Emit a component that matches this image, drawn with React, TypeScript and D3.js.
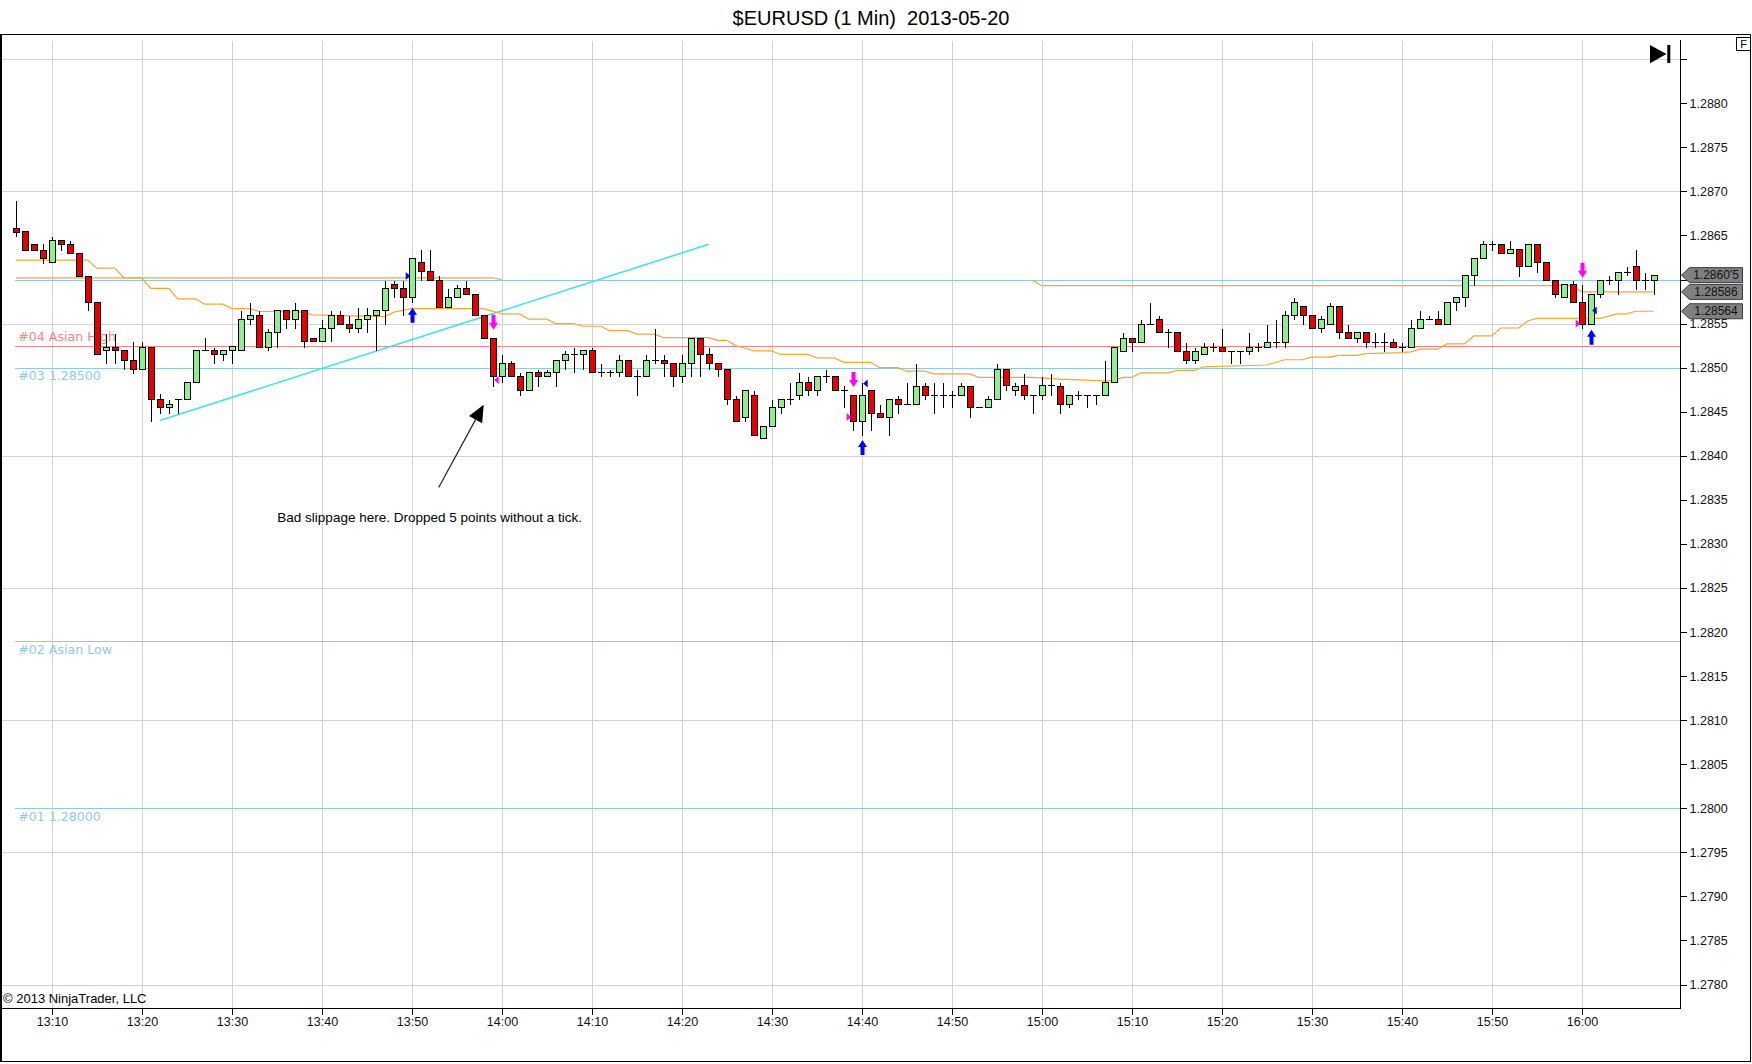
import * as d3 from 'd3';

// 1-minute bars, first bar at 13:06
const firstBar = '13:06';

const opens = [
  1.28659, 1.28655, 1.28640, 1.28634, 1.28620, 1.28645, 1.28640, 1.28630, 1.28604, 1.28574,
  1.28520, 1.28524, 1.28520, 1.28509, 1.28499, 1.28524, 1.28465, 1.28455, 1.28465, 1.28465,
  1.28484, 1.28520, 1.28520, 1.28515, 1.28520, 1.28520, 1.28555, 1.28560, 1.28524, 1.28540,
  1.28565, 1.28555, 1.28565, 1.28534, 1.28530, 1.28545, 1.28560, 1.28550, 1.28545, 1.28555,
  1.28560, 1.28565, 1.28595, 1.28590, 1.28580, 1.28620, 1.28610, 1.28600, 1.28569, 1.28580,
  1.28590, 1.28584, 1.28560, 1.28534, 1.28490, 1.28505, 1.28490, 1.28475, 1.28495, 1.28490,
  1.28495, 1.28509, 1.28515, 1.28515, 1.28520, 1.28495, 1.28495, 1.28495, 1.28509, 1.28490,
  1.28490, 1.28509, 1.28509, 1.28505, 1.28490, 1.28505, 1.28534, 1.28515, 1.28505, 1.28499,
  1.28465, 1.28444, 1.28469, 1.28420, 1.28434, 1.28455, 1.28465, 1.28469, 1.28484, 1.28475,
  1.28490, 1.28490, 1.28475, 1.28469, 1.28440, 1.28475, 1.28449, 1.28444, 1.28465, 1.28459,
  1.28459, 1.28479, 1.28469, 1.28469, 1.28469, 1.28469, 1.28479, 1.28455, 1.28455, 1.28465,
  1.28499, 1.28475, 1.28480, 1.28469, 1.28469, 1.28480, 1.28479, 1.28459, 1.28469, 1.28469,
  1.28469, 1.28469, 1.28484, 1.28519, 1.28534, 1.28529, 1.28549, 1.28555, 1.28540, 1.28540,
  1.28519, 1.28509, 1.28515, 1.28524, 1.28524, 1.28519, 1.28519, 1.28519, 1.28524, 1.28524,
  1.28529, 1.28529, 1.28560, 1.28570, 1.28560, 1.28545, 1.28549, 1.28570, 1.28540, 1.28534,
  1.28540, 1.28529, 1.28529, 1.28529, 1.28524, 1.28524, 1.28545, 1.28555, 1.28555, 1.28549,
  1.28575, 1.28580, 1.28605, 1.28624, 1.28640, 1.28640, 1.28630, 1.28635, 1.28615, 1.28640,
  1.28620, 1.28600, 1.28580, 1.28595, 1.28574, 1.28549, 1.28584, 1.28600, 1.28600, 1.28609,
  1.28615, 1.28600, 1.28600,
];

const highs = [
  1.28690, 1.28655, 1.28640, 1.28641, 1.28649, 1.28645, 1.28645, 1.28631, 1.28605, 1.28574,
  1.28539, 1.28539, 1.28520, 1.28530, 1.28530, 1.28524, 1.28471, 1.28465, 1.28465, 1.28484,
  1.28520, 1.28535, 1.28524, 1.28520, 1.28525, 1.28565, 1.28574, 1.28565, 1.28545, 1.28565,
  1.28565, 1.28574, 1.28565, 1.28534, 1.28555, 1.28565, 1.28565, 1.28560, 1.28569, 1.28569,
  1.28565, 1.28600, 1.28600, 1.28600, 1.28624, 1.28635, 1.28635, 1.28605, 1.28590, 1.28595,
  1.28600, 1.28584, 1.28560, 1.28534, 1.28516, 1.28509, 1.28495, 1.28495, 1.28499, 1.28499,
  1.28509, 1.28520, 1.28524, 1.28520, 1.28524, 1.28505, 1.28499, 1.28515, 1.28509, 1.28499,
  1.28515, 1.28545, 1.28515, 1.28505, 1.28515, 1.28534, 1.28534, 1.28524, 1.28505, 1.28499,
  1.28469, 1.28475, 1.28475, 1.28434, 1.28465, 1.28465, 1.28484, 1.28495, 1.28490, 1.28490,
  1.28499, 1.28490, 1.28480, 1.28469, 1.28484, 1.28475, 1.28459, 1.28465, 1.28469, 1.28484,
  1.28505, 1.28484, 1.28484, 1.28484, 1.28475, 1.28484, 1.28479, 1.28455, 1.28469, 1.28505,
  1.28499, 1.28484, 1.28494, 1.28469, 1.28490, 1.28494, 1.28484, 1.28469, 1.28475, 1.28469,
  1.28469, 1.28509, 1.28524, 1.28540, 1.28534, 1.28555, 1.28575, 1.28560, 1.28545, 1.28540,
  1.28529, 1.28524, 1.28529, 1.28529, 1.28545, 1.28519, 1.28519, 1.28540, 1.28529, 1.28549,
  1.28555, 1.28565, 1.28580, 1.28570, 1.28560, 1.28560, 1.28575, 1.28570, 1.28549, 1.28540,
  1.28540, 1.28540, 1.28540, 1.28534, 1.28529, 1.28555, 1.28565, 1.28560, 1.28565, 1.28575,
  1.28580, 1.28605, 1.28624, 1.28645, 1.28645, 1.28640, 1.28645, 1.28635, 1.28640, 1.28640,
  1.28620, 1.28600, 1.28595, 1.28600, 1.28595, 1.28584, 1.28600, 1.28605, 1.28609, 1.28615,
  1.28635, 1.28609, 1.28605,
];

const lows = [
  1.28649, 1.28634, 1.28634, 1.28619, 1.28620, 1.28634, 1.28630, 1.28604, 1.28565, 1.28516,
  1.28505, 1.28505, 1.28499, 1.28494, 1.28499, 1.28439, 1.28449, 1.28449, 1.28449, 1.28465,
  1.28484, 1.28520, 1.28505, 1.28509, 1.28505, 1.28520, 1.28550, 1.28524, 1.28520, 1.28524,
  1.28545, 1.28545, 1.28524, 1.28530, 1.28530, 1.28530, 1.28550, 1.28540, 1.28540, 1.28540,
  1.28520, 1.28550, 1.28580, 1.28560, 1.28575, 1.28600, 1.28600, 1.28569, 1.28569, 1.28580,
  1.28584, 1.28560, 1.28534, 1.28479, 1.28484, 1.28490, 1.28469, 1.28475, 1.28479, 1.28490,
  1.28479, 1.28499, 1.28495, 1.28499, 1.28495, 1.28490, 1.28490, 1.28490, 1.28490, 1.28469,
  1.28490, 1.28505, 1.28490, 1.28479, 1.28484, 1.28490, 1.28490, 1.28499, 1.28490, 1.28459,
  1.28439, 1.28439, 1.28424, 1.28420, 1.28434, 1.28449, 1.28459, 1.28465, 1.28469, 1.28469,
  1.28484, 1.28475, 1.28455, 1.28429, 1.28424, 1.28429, 1.28444, 1.28424, 1.28449, 1.28459,
  1.28459, 1.28465, 1.28449, 1.28455, 1.28455, 1.28469, 1.28444, 1.28455, 1.28455, 1.28465,
  1.28475, 1.28469, 1.28465, 1.28449, 1.28465, 1.28469, 1.28449, 1.28455, 1.28465, 1.28455,
  1.28459, 1.28469, 1.28484, 1.28519, 1.28519, 1.28529, 1.28549, 1.28540, 1.28524, 1.28519,
  1.28505, 1.28505, 1.28515, 1.28519, 1.28519, 1.28505, 1.28505, 1.28515, 1.28519, 1.28524,
  1.28524, 1.28524, 1.28555, 1.28549, 1.28545, 1.28540, 1.28549, 1.28534, 1.28534, 1.28529,
  1.28524, 1.28524, 1.28519, 1.28524, 1.28519, 1.28524, 1.28545, 1.28555, 1.28549, 1.28549,
  1.28565, 1.28570, 1.28594, 1.28624, 1.28634, 1.28630, 1.28630, 1.28604, 1.28615, 1.28609,
  1.28600, 1.28580, 1.28580, 1.28574, 1.28545, 1.28549, 1.28580, 1.28595, 1.28584, 1.28605,
  1.28589, 1.28589, 1.28584,
];

const closes = [
  1.28654, 1.28634, 1.28634, 1.28624, 1.28645, 1.28640, 1.28630, 1.28604, 1.28574, 1.28516,
  1.28524, 1.28520, 1.28509, 1.28499, 1.28524, 1.28465, 1.28455, 1.28459, 1.28465, 1.28484,
  1.28520, 1.28520, 1.28515, 1.28520, 1.28525, 1.28555, 1.28560, 1.28524, 1.28540, 1.28565,
  1.28555, 1.28565, 1.28530, 1.28530, 1.28545, 1.28560, 1.28550, 1.28545, 1.28555, 1.28560,
  1.28565, 1.28590, 1.28590, 1.28580, 1.28624, 1.28610, 1.28600, 1.28569, 1.28580, 1.28590,
  1.28584, 1.28560, 1.28534, 1.28490, 1.28505, 1.28490, 1.28475, 1.28495, 1.28490, 1.28495,
  1.28509, 1.28515, 1.28515, 1.28520, 1.28495, 1.28495, 1.28495, 1.28509, 1.28490, 1.28490,
  1.28509, 1.28509, 1.28505, 1.28490, 1.28505, 1.28534, 1.28515, 1.28505, 1.28499, 1.28465,
  1.28439, 1.28475, 1.28424, 1.28434, 1.28455, 1.28465, 1.28465, 1.28484, 1.28475, 1.28490,
  1.28490, 1.28475, 1.28475, 1.28440, 1.28469, 1.28449, 1.28444, 1.28465, 1.28459, 1.28459,
  1.28479, 1.28469, 1.28469, 1.28469, 1.28469, 1.28479, 1.28455, 1.28455, 1.28465, 1.28499,
  1.28480, 1.28479, 1.28469, 1.28469, 1.28480, 1.28480, 1.28459, 1.28469, 1.28469, 1.28469,
  1.28469, 1.28484, 1.28524, 1.28534, 1.28529, 1.28549, 1.28549, 1.28540, 1.28540, 1.28519,
  1.28509, 1.28519, 1.28524, 1.28524, 1.28519, 1.28519, 1.28519, 1.28524, 1.28524, 1.28529,
  1.28529, 1.28560, 1.28575, 1.28560, 1.28545, 1.28555, 1.28570, 1.28540, 1.28534, 1.28540,
  1.28529, 1.28529, 1.28529, 1.28524, 1.28524, 1.28545, 1.28555, 1.28555, 1.28549, 1.28575,
  1.28580, 1.28605, 1.28624, 1.28640, 1.28640, 1.28630, 1.28635, 1.28615, 1.28640, 1.28620,
  1.28600, 1.28584, 1.28595, 1.28574, 1.28549, 1.28584, 1.28600, 1.28600, 1.28609, 1.28609,
  1.28600, 1.28600, 1.28605,
];

// orange indicator lines, vertices [time, price]
const trailLine: [string, number][] = [
  ['13:06', 1.28622], ['13:14', 1.28622], ['13:15', 1.28613], ['13:17', 1.28613],
  ['13:18', 1.28602], ['13:20', 1.28602], ['13:21', 1.2859], ['13:23', 1.2859],
  ['13:24', 1.28578], ['13:26', 1.28578], ['13:27', 1.28572], ['13:29', 1.28572],
  ['13:30', 1.28567], ['13:32', 1.28567], ['13:33', 1.28564], ['13:38', 1.28563],
  ['13:39', 1.2856], ['13:47', 1.28558], ['13:48', 1.28563], ['13:50', 1.28567],
  ['13:58', 1.28567], ['14:00', 1.28561], ['14:02', 1.28561], ['14:03', 1.28555],
  ['14:05', 1.28555], ['14:06', 1.2855], ['14:08', 1.2855], ['14:09', 1.28547],
  ['14:11', 1.28547], ['14:12', 1.28542], ['14:14', 1.28542], ['14:15', 1.28538],
  ['14:17', 1.28538], ['14:18', 1.28534], ['14:23', 1.28534], ['14:24', 1.28531],
  ['14:25', 1.28531], ['14:26', 1.28525], ['14:27', 1.28522], ['14:28', 1.28519],
  ['14:30', 1.28519], ['14:31', 1.28515], ['14:34', 1.28515], ['14:35', 1.28511],
  ['14:37', 1.28511], ['14:38', 1.28506], ['14:41', 1.28506], ['14:42', 1.285],
  ['14:44', 1.285], ['14:45', 1.28496], ['14:47', 1.28496], ['14:48', 1.28493],
  ['14:52', 1.28493], ['14:53', 1.28489], ['14:59', 1.28489], ['15:02', 1.28487],
  ['15:07', 1.28485], ['15:08', 1.28485], ['15:09', 1.28489], ['15:10', 1.28489],
  ['15:11', 1.28494], ['15:14', 1.28494], ['15:15', 1.28497], ['15:17', 1.28497],
  ['15:18', 1.28501], ['15:25', 1.28503], ['15:27', 1.28509], ['15:29', 1.28509],
  ['15:30', 1.28512], ['15:32', 1.28512], ['15:33', 1.28514], ['15:35', 1.28514],
  ['15:36', 1.28516], ['15:40', 1.28517], ['15:41', 1.28518], ['15:42', 1.28521],
  ['15:44', 1.28521], ['15:45', 1.28527], ['15:47', 1.28527], ['15:48', 1.28536],
  ['15:50', 1.28536], ['15:51', 1.28545], ['15:53', 1.28545], ['15:54', 1.28553],
  ['15:55', 1.28556], ['16:02', 1.28556], ['16:04', 1.28561], ['16:05', 1.28561],
  ['16:06', 1.28564], ['16:08', 1.28564],
];
const upperLineA: [string, number][] = [['13:06', 1.28602], ['13:59', 1.28602], ['14:00', 1.286]];
const upperLineB: [string, number][] = [
  ['14:59', 1.28599], ['15:00', 1.28593], ['15:59', 1.28593], ['16:00', 1.28586], ['16:08', 1.28586],
];

const levels = [
  { label: '#04 Asian High', price: 1.28525, color: '#f08585', labelAbove: true },
  { label: '#03 1.28500', price: 1.285, color: '#8fcbe3', labelAbove: false },
  { label: '#02 Asian Low', price: 1.2819, color: '#8fcbe3', labelAbove: false },
  { label: '#01 1.28000', price: 1.28, color: '#8fcbe3', labelAbove: false },
  { label: '', price: 1.286, color: '#8fcbe3', labelAbove: false },
];

const trendLine: [string, number][] = [['13:22', 1.2844], ['14:23', 1.2864]];

// strategy signals: arrow tip price
const signals = [
  { time: '13:50', price: 1.28568, dir: 'up' },
  { time: '13:59', price: 1.28543, dir: 'down' },
  { time: '14:39', price: 1.28478, dir: 'down' },
  { time: '14:40', price: 1.28418, dir: 'up' },
  { time: '16:00', price: 1.28602, dir: 'down' },
  { time: '16:01', price: 1.28543, dir: 'up' },
];

// fills
const executions = [
  { time: '13:50', price: 1.28604, side: 'buy', place: 'left' },
  { time: '13:59', price: 1.28486, side: 'sell', place: 'right' },
  { time: '14:39', price: 1.28444, side: 'sell', place: 'left' },
  { time: '14:40', price: 1.28482, side: 'buy', place: 'right' },
  { time: '16:00', price: 1.2855, side: 'sell', place: 'left' },
  { time: '16:01', price: 1.28565, side: 'buy', place: 'right' },
];

const note = { text: 'Bad slippage here. Dropped 5 points without a tick.', time: '13:52', price: 1.28325 };
const noteArrow: [string, number][] = [['13:53', 1.28364], ['13:58', 1.28458]];

const xTicks = [
  '13:10', '13:20', '13:30', '13:40', '13:50', '14:00', '14:10', '14:20', '14:30',
  '14:40', '14:50', '15:00', '15:10', '15:20', '15:30', '15:40', '15:50', '16:00',
];
const yTicks = [
  1.278, 1.2785, 1.279, 1.2795, 1.28, 1.2805, 1.281, 1.2815, 1.282, 1.2825, 1.283,
  1.2835, 1.284, 1.2845, 1.285, 1.2855, 1.286, 1.2865, 1.287, 1.2875, 1.288,
];
const yGrid = [1.278, 1.2795, 1.281, 1.2825, 1.284, 1.2855, 1.287, 1.2885];

const W = 1752;
const H = 1064;
const plotBottom = 1008.5;
const axisX = 1680.5;
const axisFont = '"Liberation Sans", Arial, sans-serif';

const toMin = (s: string) => {
  const [h, m] = s.split(':').map(Number);
  return h * 60 + m;
};

export default function App() {
  const x = d3.scaleLinear().domain([toMin('13:10'), toMin('16:00')]).range([51.7, 1581.7]);
  const y = d3.scaleLinear().domain([1.278, 1.288]).range([984.5, 103.3]);
  const t0 = toMin(firstBar);

  const bars = opens.map((o, i) => ({ t: t0 + i, o, h: highs[i], l: lows[i], c: closes[i] }));
  const px = (v: number) => Math.round(v) + 0.5;

  const line = d3
    .line<[string, number]>()
    .x((d) => x(toMin(d[0])))
    .y((d) => y(d[1]));

  const lineStart = x(t0) - 1;
  const last = closes[closes.length - 1];
  const lastLabel = `${last.toFixed(4)}'${last.toFixed(5).slice(-1)}`;
  const markers = [
    { price: last, label: lastLabel },
    { price: upperLineB[upperLineB.length - 1][1], label: upperLineB[upperLineB.length - 1][1].toFixed(5) },
    { price: trailLine[trailLine.length - 1][1], label: trailLine[trailLine.length - 1][1].toFixed(5) },
  ];
  // axis labels hidden behind a price marker box
  const hidden = (v: number) => markers.some((m) => Math.abs(y(m.price) - y(v)) < 8);

  return (
    <div style={{ position: 'absolute', left: 0, top: 0 }}>
      <svg width={W} height={H} style={{ display: 'block', background: '#fff' }}>
        <rect width={W} height={H} fill="#fff" />
        <text x={871} y={25} textAnchor="middle" fontFamily={axisFont} fontSize={20} fill="#000" style={{ whiteSpace: 'pre' }}>
          {'$EURUSD (1 Min)  2013-05-20'}
        </text>

        {/* grid */}
        <g stroke="#d2d2d2" strokeWidth={1} shapeRendering="crispEdges">
          {xTicks.map((t) => (
            <line key={t} x1={px(x(toMin(t)))} x2={px(x(toMin(t)))} y1={41} y2={plotBottom} />
          ))}
          {yGrid.map((v) => (
            <line key={v} x1={1} x2={axisX} y1={px(y(v))} y2={px(y(v))} />
          ))}
        </g>

        {/* horizontal levels */}
        {levels.map((lv) => (
          <g key={lv.price}>
            <line x1={lineStart} x2={axisX} y1={px(y(lv.price))} y2={px(y(lv.price))} stroke={lv.color} shapeRendering="crispEdges" />
            {lv.label && (
              <text
                x={lineStart + 3.5}
                y={lv.labelAbove ? y(lv.price) - 4.5 : y(lv.price) + 12.7}
                fontFamily='"DejaVu Sans", Verdana, sans-serif'
                fontSize={12.6}
                fill={lv.color}
              >
                {lv.label}
              </text>
            )}
          </g>
        ))}

        <path d={line(trendLine) || ''} stroke="#3fe3ea" strokeWidth={1.6} fill="none" />

        {[trailLine, upperLineA, upperLineB].map((ln, i) => (
          <path key={i} d={line(ln) || ''} stroke="#f0a838" strokeWidth={1.2} fill="none" />
        ))}

        {/* candles */}
        <g shapeRendering="crispEdges">
          {bars.map((b) => {
            const cx = px(x(b.t));
            const yo = px(y(b.o));
            const yc = px(y(b.c));
            const doji = Math.abs(b.o - b.c) < 1e-7;
            return (
              <g key={b.t}>
                <line x1={cx} x2={cx} y1={px(y(b.h))} y2={px(y(b.l))} stroke="#000" />
                {doji ? (
                  <line x1={cx - 3.5} x2={cx + 3.5} y1={yo} y2={yo} stroke="#000" />
                ) : (
                  <rect
                    x={cx - 3}
                    y={Math.min(yo, yc)}
                    width={6}
                    height={Math.abs(yo - yc)}
                    fill={b.c > b.o ? '#90ee90' : '#e80000'}
                    stroke="#000"
                  />
                )}
              </g>
            );
          })}
        </g>

        {/* signal arrows */}
        {signals.map((s) => {
          const cx = px(x(toMin(s.time)));
          const ty = y(s.price);
          const k = s.dir === 'up' ? 1 : -1;
          const d = `M${cx},${ty} L${cx + 4.5},${ty + 7 * k} L${cx + 2},${ty + 7 * k} L${cx + 2},${ty + 15 * k} L${cx - 2},${ty + 15 * k} L${cx - 2},${ty + 7 * k} L${cx - 4.5},${ty + 7 * k} Z`;
          return <path key={s.time} d={d} fill={s.dir === 'up' ? '#0000ff' : '#ff00ff'} />;
        })}

        {/* execution markers */}
        {executions.map((e) => {
          const cx = x(toMin(e.time));
          const cy = y(e.price);
          const color = e.side === 'buy' ? '#0000ee' : '#ff00ff';
          const d =
            e.place === 'left'
              ? `M${cx - 6},${cy - 4} L${cx - 1.5},${cy} L${cx - 6},${cy + 4} Z`
              : `M${cx + 6},${cy - 4} L${cx + 1.5},${cy} L${cx + 6},${cy + 4} Z`;
          return <path key={e.time} d={d} fill={color} />;
        })}

        {/* annotation */}
        {(() => {
          const [a, b] = noteArrow;
          const x1 = x(toMin(a[0]));
          const y1 = y(a[1]);
          const x2 = x(toMin(b[0]));
          const y2 = y(b[1]);
          const ang = Math.atan2(y2 - y1, x2 - x1);
          const len = 17;
          const half = 7.5;
          const bx = x2 - len * Math.cos(ang);
          const by = y2 - len * Math.sin(ang);
          const nx = -Math.sin(ang);
          const ny = Math.cos(ang);
          return (
            <g>
              <line x1={x1} y1={y1} x2={bx} y2={by} stroke="#222" strokeWidth={1.2} />
              <path d={`M${x2},${y2} L${bx + nx * half},${by + ny * half} L${bx - nx * half},${by - ny * half} Z`} fill="#000" />
            </g>
          );
        })()}
        <text x={x(toMin(note.time))} y={y(note.price)} textAnchor="middle" fontFamily={axisFont} fontSize={13.5} fill="#000">
          {note.text}
        </text>

        {/* frame and axes */}
        <g stroke="#000" fill="none" shapeRendering="crispEdges">
          <rect x={1.5} y={34.5} width={1749} height={1027} strokeWidth={1} />
          <line x1={1} x2={axisX} y1={plotBottom} y2={plotBottom} />
          <line x1={axisX} x2={axisX} y1={40} y2={plotBottom} />
        </g>
        <line x1={0.5} x2={0.5} y1={34} y2={1062} stroke="#000" strokeWidth={1} shapeRendering="crispEdges" />

        {xTicks.map((t) => {
          const tx = px(x(toMin(t)));
          return (
            <g key={t}>
              <line x1={tx} x2={tx} y1={plotBottom} y2={plotBottom + 6} stroke="#000" shapeRendering="crispEdges" />
              <text x={tx} y={1025.5} textAnchor="middle" fontFamily={axisFont} fontSize={12.5} fill="#111">
                {t}
              </text>
            </g>
          );
        })}

        {[...yTicks, 1.2885].map((v) => (
          <line key={v} x1={axisX} x2={axisX + 6} y1={px(y(v))} y2={px(y(v))} stroke="#000" shapeRendering="crispEdges" />
        ))}
        {yTicks
          .filter((v) => !hidden(v))
          .map((v) => (
            <text key={v} x={1689.5} y={y(v)} dy="0.36em" fontFamily={axisFont} fontSize={12.5} fill="#111">
              {v.toFixed(4)}
            </text>
          ))}

        {/* price markers on the axis */}
        {markers.map((m) => {
          const cy = y(m.price);
          return (
            <g key={m.label}>
              <path
                d={`M${axisX + 1},${cy} L${axisX + 9},${cy - 7.5} L1742.5,${cy - 7.5} L1742.5,${cy + 7.5} L${axisX + 9},${cy + 7.5} Z`}
                fill="#808080"
                stroke="#3a3a3a"
              />
              <text x={1716} y={cy} dy="0.35em" textAnchor="middle" fontFamily={axisFont} fontSize={12} fill="#111">
                {m.label}
              </text>
            </g>
          );
        })}

        <text x={3} y={1003} fontFamily={axisFont} fontSize={13} fill="#000">
          © 2013 NinjaTrader, LLC
        </text>

        {/* toolbar glyphs */}
        <path d="M1650,45 L1666.5,54 L1650,63.3 Z" fill="#000" />
        <rect x={1667.3} y={45} width={3} height={18} fill="#000" />
        <rect x={1736.5} y={37.5} width={14} height={13} fill="#fff" stroke="#000" shapeRendering="crispEdges" />
        <text x={1743.5} y={48.3} textAnchor="middle" fontFamily={axisFont} fontSize={11} fill="#000">
          F
        </text>
      </svg>
    </div>
  );
}
